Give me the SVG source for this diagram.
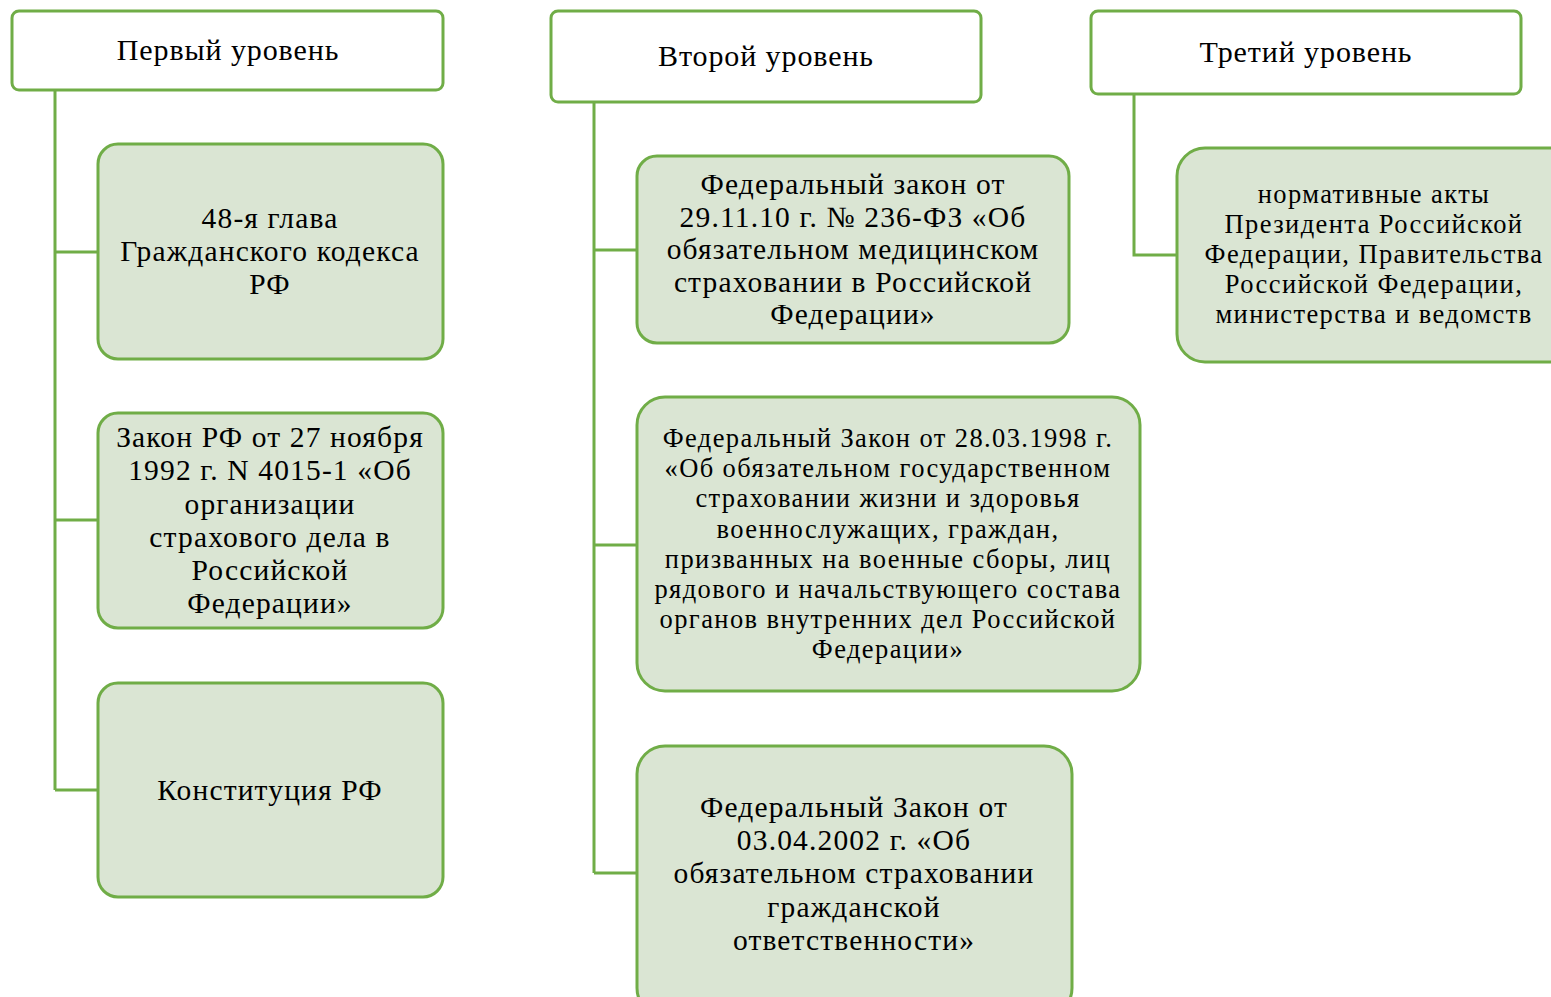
<svg xmlns="http://www.w3.org/2000/svg" width="1551" height="997" viewBox="0 0 1551 997">
<style>
.hdr{fill:#ffffff;stroke:#70AD47;stroke-width:3}
.box{fill:#DAE5D3;stroke:#70AD47;stroke-width:3}
.con{fill:none;stroke:#70AD47;stroke-width:3}
text{font-family:"Liberation Serif","Times New Roman",serif;fill:#000;text-anchor:middle}
.h{font-size:30px;letter-spacing:0.9px}
.m{font-size:29.5px;letter-spacing:1.15px}
.s{font-size:26.5px;letter-spacing:1.4px}
</style>
<rect width="1551" height="997" fill="#ffffff"/>
<g id="connectors">
<path class="con" d="M55,90 V790 M55,252 H98 M55,520 H98 M55,790 H98"/>
<path class="con" d="M594,102 V873 M594,250 H637 M594,545 H637 M594,873 H637"/>
<path class="con" d="M1134,94 V255 H1177"/>
</g>
<g id="level1">
<rect class="hdr" x="12" y="11" width="431" height="79" rx="7"/>
<text class="h" x="228" y="60">Первый уровень</text>
</g>
<g id="level2">
<rect class="hdr" x="551" y="11" width="430" height="91" rx="7"/>
<text class="h" x="766" y="66">Второй уровень</text>
</g>
<g id="level3">
<rect class="hdr" x="1091" y="11" width="430" height="83" rx="7"/>
<text class="h" x="1306" y="62">Третий уровень</text>
</g>
<g id="n-gk">
<rect class="box" x="98" y="144" width="345" height="215" rx="20"/>
<text class="m" x="270"><tspan x="270" y="228">48-я глава</tspan><tspan x="270" y="261">Гражданского кодекса</tspan><tspan x="270" y="294">РФ</tspan></text>
</g>
<g id="n-zakon4015">
<rect class="box" x="98" y="413" width="345" height="215" rx="20"/>
<text class="m" x="270"><tspan x="270" y="447">Закон РФ от 27 ноября</tspan><tspan x="270" y="480">1992 г. N 4015-1 «Об</tspan><tspan x="270" y="514">организации</tspan><tspan x="270" y="547">страхового дела в</tspan><tspan x="270" y="580">Российской</tspan><tspan x="270" y="613">Федерации»</tspan></text>
</g>
<g id="n-konst">
<rect class="box" x="98" y="683" width="345" height="214" rx="20"/>
<text class="m" x="270" y="800">Конституция РФ</text>
</g>
<g id="n-fz236">
<rect class="box" x="637" y="156" width="432" height="187" rx="20"/>
<text class="m" x="853"><tspan x="853" y="194">Федеральный закон от</tspan><tspan x="853" y="227">29.11.10 г. № 236-ФЗ «Об</tspan><tspan x="853" y="259">обязательном медицинском</tspan><tspan x="853" y="292">страховании в Российской</tspan><tspan x="853" y="324">Федерации»</tspan></text>
</g>
<g id="n-fz1998">
<rect class="box" x="637" y="397" width="503" height="294" rx="28"/>
<text class="s" x="888"><tspan x="888" y="447">Федеральный Закон от 28.03.1998 г.</tspan><tspan x="888" y="477">«Об обязательном государственном</tspan><tspan x="888" y="507">страховании жизни и здоровья</tspan><tspan x="888" y="538">военнослужащих, граждан,</tspan><tspan x="888" y="568">призванных на военные сборы, лиц</tspan><tspan x="888" y="598">рядового и начальствующего состава</tspan><tspan x="888" y="628">органов внутренних дел Российской</tspan><tspan x="888" y="658">Федерации»</tspan></text>
</g>
<g id="n-fz2002">
<rect class="box" x="637" y="746" width="435" height="270" rx="28"/>
<text class="m" x="854"><tspan x="854" y="817">Федеральный Закон от</tspan><tspan x="854" y="850">03.04.2002 г. «Об</tspan><tspan x="854" y="883">обязательном страховании</tspan><tspan x="854" y="917">гражданской</tspan><tspan x="854" y="950">ответственности»</tspan></text>
</g>
<g id="n-normakty">
<rect class="box" x="1177" y="148" width="400" height="214" rx="28"/>
<text class="s" x="1374"><tspan x="1374" y="203">нормативные акты</tspan><tspan x="1374" y="233">Президента Российской</tspan><tspan x="1374" y="263">Федерации, Правительства</tspan><tspan x="1374" y="293">Российской Федерации,</tspan><tspan x="1374" y="323">министерства и ведомств</tspan></text>
</g>
</svg>
